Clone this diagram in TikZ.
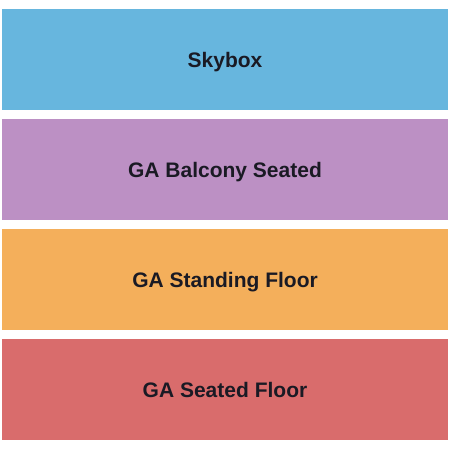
\documentclass[tikz,border=0pt]{standalone}
\usepackage{fontspec}
\setmainfont{Liberation Sans}
\definecolor{skyboxblue}{HTML}{67B6DE}
\definecolor{balconypurple}{HTML}{BC90C4}
\definecolor{standingorange}{HTML}{F4AF5B}
\definecolor{seatedred}{HTML}{D96C6C}
\definecolor{labeltext}{HTML}{1A1A24}
\tikzset{band/.style={minimum width=446pt, minimum height=101pt, inner sep=0pt,
  text height=15pt, text depth=0pt,
  text=labeltext, font=\fontsize{21}{21}\selectfont\bfseries}}
\begin{document}
\begin{tikzpicture}[x=1pt, y=-1pt]
			\useasboundingbox (0,0) rectangle (450,450);
			\node[band, fill=skyboxblue] (skybox) at (225,59.5) {Skybox};
			\node[band, fill=balconypurple] (balcony) at (225,169.5) {GA Balcony Seated};
			\node[band, fill=standingorange] (standing) at (225,279.5) {GA Standing Floor};
			\node[band, fill=seatedred] (seated) at (225,389.5) {GA Seated Floor};
		\end{tikzpicture}
\end{document}
